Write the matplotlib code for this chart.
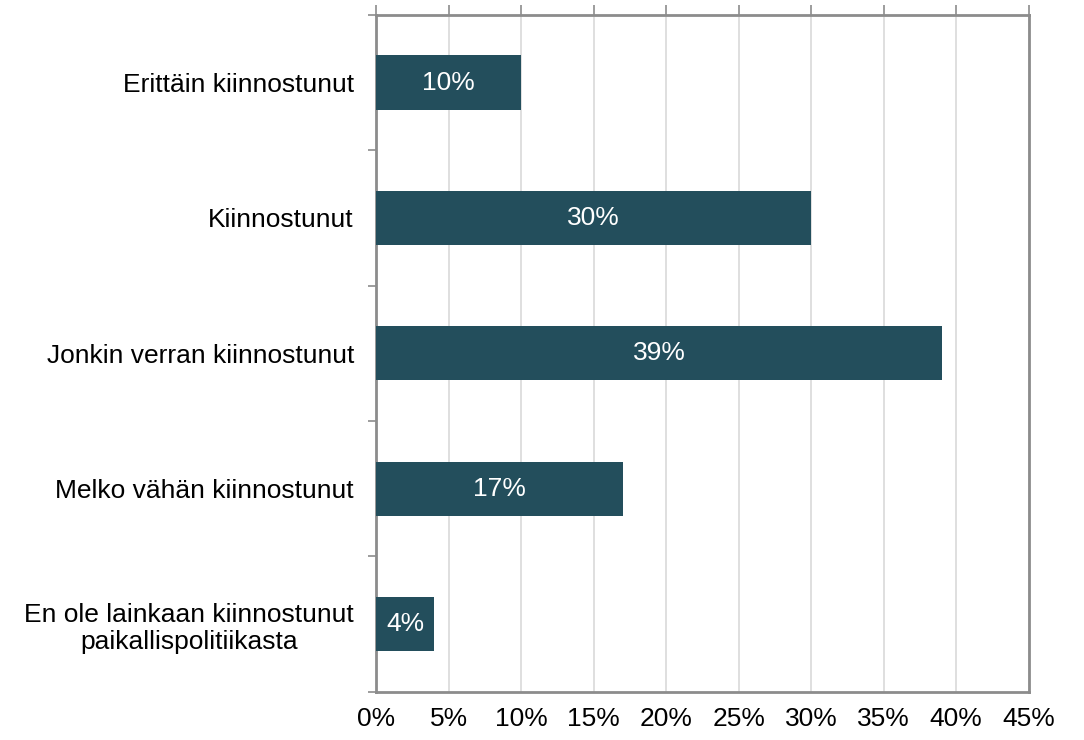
import matplotlib
matplotlib.use("Agg")
import matplotlib.pyplot as plt
import numpy as np

plt.rcParams["font.family"] = ["Liberation Sans", "DejaVu Sans"]

categories = [
    "Erittäin kiinnostunut",
    "Kiinnostunut",
    "Jonkin verran kiinnostunut",
    "Melko vähän kiinnostunut",
    "En ole lainkaan kiinnostunut\npaikallispolitiikasta",
]
values = [10, 30, 39, 17, 4]
xticks = [0, 5, 10, 15, 20, 25, 30, 35, 40, 45]

BAR = "#234e5c"
FRAME = "#8c8c8c"
FS = 19

fig = plt.figure(figsize=(10.84, 7.4), dpi=100)
ax = fig.add_axes([0.347, 0.065, 0.602, 0.915])

ys = np.arange(len(categories))
ax.barh(ys, values, height=0.4, color=BAR, zorder=3)
for y, v in zip(ys, values):
    ax.text(v / 2, y, f"{v}%", ha="center", va="center", color="white",
            fontsize=FS, zorder=4)

ax.set_ylim(len(categories) - 0.5, -0.5)
ax.set_xlim(0, 45)
ax.set_xticks(xticks)
ax.set_xticklabels([f"{t}%" for t in xticks], fontsize=FS)
ax.grid(axis="x", color="#d9d9d9", linewidth=1.2, zorder=0)

# category labels on major ticks, boundary marks on minor ticks
ax.set_yticks(ys)
ax.set_yticklabels(categories, fontsize=FS, multialignment="center")
ax.set_yticks(np.arange(-0.5, len(categories)), minor=True)
ax.tick_params(axis="y", which="major", length=0, pad=16)
ax.tick_params(axis="y", which="minor", length=6, color=FRAME, width=1.2)

# x tick marks on top, labels at bottom
ax.tick_params(axis="x", which="major", top=True, bottom=False,
               labeltop=False, labelbottom=True, length=7, color=FRAME,
               width=1.2, pad=4, direction="out")

for s in ax.spines.values():
    s.set_color(FRAME)
    s.set_linewidth(2)

fig.savefig("out.png", dpi=100)
